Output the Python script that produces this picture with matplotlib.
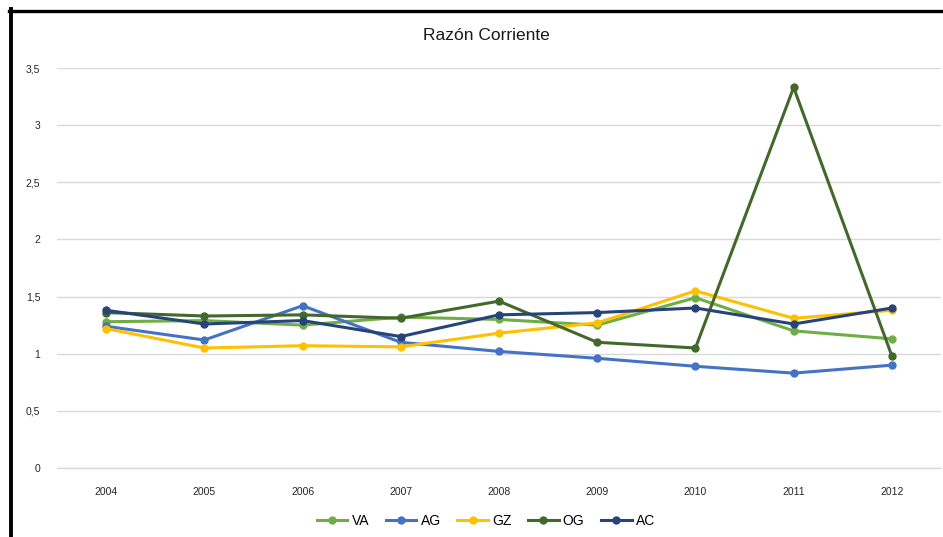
import matplotlib.pyplot as plt
from matplotlib.lines import Line2D

# Datos
years = ['2004', '2005', '2006', '2007', '2008', '2009', '2010', '2011', '2012']
va = [1.28, 1.29, 1.25, 1.32, 1.30, 1.25, 1.49, 1.20, 1.13]
ag = [1.24, 1.12, 1.42, 1.10, 1.02, 0.96, 0.89, 0.83, 0.90]
gz = [1.22, 1.05, 1.07, 1.06, 1.18, 1.27, 1.55, 1.31, 1.38]
og = [1.36, 1.33, 1.34, 1.31, 1.46, 1.10, 1.05, 3.33, 0.98]
ac = [1.38, 1.26, 1.29, 1.15, 1.34, 1.36, 1.40, 1.26, 1.40]

series = [('VA', va, '#70AD47'), ('AG', ag, '#4472C4'), ('GZ', gz, '#FFC000'),
          ('OG', og, '#43682B'), ('AC', ac, '#264478')]

plt.rcParams['font.family'] = ['Liberation Sans', 'DejaVu Sans']

fig = plt.figure(figsize=(9.43, 5.37), dpi=100)
ax = fig.add_axes([57 / 943, 69 / 537, 884 / 943, 400 / 537])

x = range(len(years))
for name, vals, color in series:
    ax.plot(x, vals, color=color, lw=2.2, marker='o', markersize=5, label=name)

ax.set_xlim(-0.5, len(years) - 0.5)
ax.set_ylim(0, 3.5)
ax.set_xticks(list(x))
ax.set_xticklabels(years)
yt = [0, 0.5, 1, 1.5, 2, 2.5, 3, 3.5]
ax.set_yticks(yt)
ax.set_yticklabels(['0', '0,5', '1', '1,5', '2', '2,5', '3', '3,5'])
ax.tick_params(length=0, labelsize=7.5, colors='#262626', pad=12)
ax.tick_params(axis='x', pad=14)
ax.grid(axis='y', color='#d9d9d9', lw=1)
ax.axhline(0, color='#d9d9d9', lw=1, clip_on=False, zorder=0)
ax.set_axisbelow(True)
for s in ax.spines.values():
    s.set_visible(False)

fig.text(486 / 943, 1 - 36 / 537, 'Razón Corriente', ha='center', va='center',
         fontsize=12.5, color='#1a1a1a')

fig.legend(loc='center', bbox_to_anchor=(486 / 943, 1 - 521 / 537), ncol=5,
           frameon=False, fontsize=10, handlelength=2.2, columnspacing=1.2,
           handletextpad=0.3)

# Marco de la captura
fig.add_artist(Line2D([9 / 943, 1], [1 - 10.5 / 537] * 2, color='black', lw=2.4,
                      transform=fig.transFigure))
fig.add_artist(Line2D([11 / 943] * 2, [0, 1 - 9 / 537], color='black', lw=2.8,
                      transform=fig.transFigure))

fig.savefig('out.png', dpi=100)
